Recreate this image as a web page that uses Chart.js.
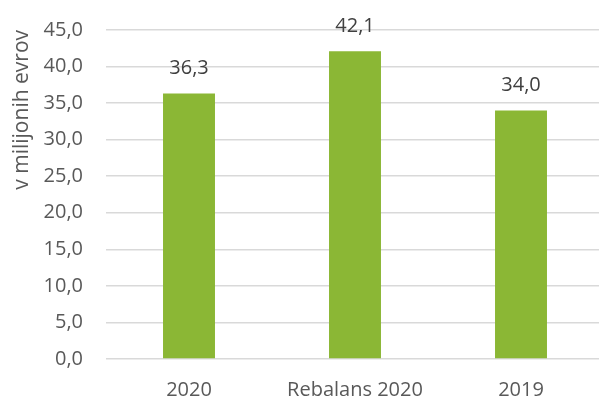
<!DOCTYPE html>
<html>
<head>
  <script src="https://cdn.jsdelivr.net/npm/chart.js"></script>
  <style>
    body { margin: 0; background: #fff; overflow: hidden; }
    #wrap { width: 605px; height: 399px; }
  </style>
</head>
<body>
  <div id="wrap"><canvas id="myChart"></canvas></div>
  <script>
    var labels = ['2020', 'Rebalans 2020', '2019'];
    var values = [36.3, 42.1, 34.0];
    var yTitle = 'v milijonih evrov';

    function fmt(v) {
      return v.toFixed(1).replace('.', ',');
    }

    var barLabels = {
      id: 'barLabels',
      afterDatasetsDraw: function(chart) {
        var ctx = chart.ctx;
        var meta = chart.getDatasetMeta(0);
        ctx.save();
        ctx.fillStyle = '#404040';
        ctx.font = '20px "Open Sans"';
        ctx.textAlign = 'center';
        ctx.textBaseline = 'middle';
        meta.data.forEach(function(bar, i) {
          ctx.fillText(fmt(values[i]), bar.x, bar.y - 25);
        });
        ctx.restore();
      }
    };

    var ctx = document.getElementById('myChart').getContext('2d');
    var chart = new Chart(ctx, {
      type: 'bar',
      data: {
        labels: labels,
        datasets: [{
          data: values,
          backgroundColor: '#8BB735',
          categoryPercentage: 1,
          barPercentage: 0.313
        }]
      },
      options: {
        responsive: true,
        maintainAspectRatio: false,
        animation: false,
        layout: { padding: { top: 30, right: 1, left: 0, bottom: 0 } },
        plugins: {
          legend: { display: false },
          tooltip: { enabled: false }
        },
        scales: {
          x: {
            grid: { display: false, drawTicks: false },
            border: { display: false },
            ticks: { color: '#595959', font: { family: 'Open Sans', size: 20 }, padding: 19 },
            afterFit: function(s) { s.height = 40; s.paddingLeft = 0; s.paddingRight = 0; }
          },
          y: {
            min: 0,
            max: 45,
            ticks: {
              stepSize: 5,
              color: '#595959',
              font: { family: 'Open Sans', size: 20 },
              padding: 23,
              callback: function(v) { return fmt(v); }
            },
            grid: { color: '#d9d9d9', lineWidth: 1.5, drawTicks: false },
            border: { display: false },
            title: {
              display: true,
              text: yTitle,
              align: 'end',
              color: '#595959',
              font: { family: 'Open Sans', size: 21 },
              padding: { top: 9, bottom: 0 }
            },
            afterFit: function(s) { s.width = 106; s.paddingTop = 0; s.paddingBottom = 0; }
          }
        }
      },
      plugins: [barLabels]
    });
  </script>
</body>
</html>
